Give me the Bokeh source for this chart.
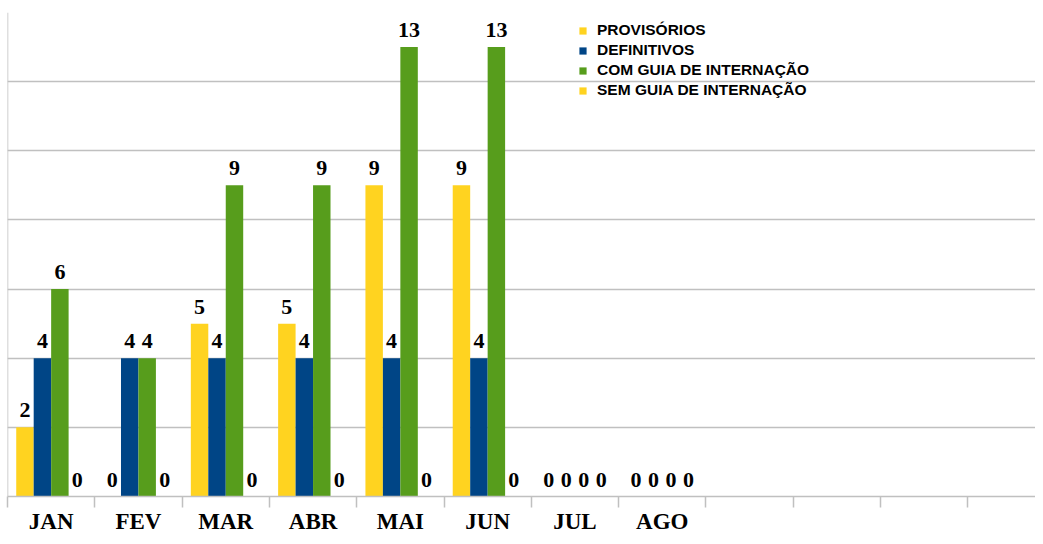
from bokeh.plotting import figure
from bokeh.models import (ColumnDataSource, Range1d, FixedTicker, Grid, Span,
                          Legend, LegendItem)
from bokeh.transform import dodge
from bokeh.core.properties import value
from bokeh.embed import file_html
from bokeh.resources import INLINE

# ---- data ----
months = ["JAN", "FEV", "MAR", "ABR", "MAI", "JUN", "JUL", "AGO", "", "", "", ""]
provisorios = [2, 0, 5, 5, 9, 9, 0, 0]
definitivos = [4, 4, 4, 4, 4, 4, 0, 0]
com_guia = [6, 4, 9, 9, 13, 13, 0, 0]
sem_guia = [0, 0, 0, 0, 0, 0, 0, 0]
series_names = ["PROVISÓRIOS", "DEFINITIVOS", "COM GUIA DE INTERNAÇÃO", "SEM GUIA DE INTERNAÇÃO"]
y_ticks = [0, 2, 4, 6, 8, 10, 12, 14]

colors = ["#FFD320", "#004586", "#579D1C", "#FFD320"]
series = [provisorios, definitivos, com_guia, sem_guia]
offsets = [-0.3, -0.1, 0.1, 0.3]

n_cat = len(months)
centers = [i + 0.5 for i in range(n_cat)]
bounds = [float(i) for i in range(n_cat + 1)]

W, H = 1035, 536
LEFT = 7
cat_px = 87.3
p = figure(width=W, height=H, output_backend="svg", toolbar_location=None,
           x_range=Range1d(0, (W - LEFT) / cat_px), y_range=Range1d(0, 14),
           y_axis_location=None, min_border_left=LEFT, min_border_right=0,
           min_border_top=12, min_border_bottom=10)
p.outline_line_color = None
p.xgrid.visible = False
p.background_fill_color = "white"
p.border_fill_color = "white"

grid = Grid(dimension=1, ticker=FixedTicker(ticks=y_ticks),
            grid_line_color="#c0c0c0", grid_line_width=1.5)
p.add_layout(grid)
p.add_layout(Span(location=0, dimension="height", line_color="#c0c0c0", line_width=1.5))

src = ColumnDataSource(dict(
    x=centers[:len(provisorios)],
    s0=provisorios, s1=definitivos, s2=com_guia, s3=sem_guia,
    t0=[str(v) for v in provisorios], t1=[str(v) for v in definitivos],
    t2=[str(v) for v in com_guia], t3=[str(v) for v in sem_guia],
))

items = []
for k in range(4):
    r = p.vbar(x=dodge("x", offsets[k], range=p.x_range), top=f"s{k}", bottom=0,
               width=0.2, source=src, fill_color=colors[k], line_color=None)
    items.append(LegendItem(label=series_names[k], renderers=[r]))
    p.text(x=dodge("x", offsets[k], range=p.x_range), y=f"s{k}", text=f"t{k}",
           source=src, text_align="center", text_baseline="alphabetic", y_offset=-17,
           text_font=value("Liberation Serif"), text_font_style="bold",
           text_font_size="22px", text_color="black")

legend = Legend(items=items, location=(571, 396), orientation="vertical",
                glyph_width=9, glyph_height=9, label_height=20, spacing=0,
                padding=0, margin=0, label_standoff=10,
                label_text_font="Liberation Sans", label_text_font_style="bold",
                label_text_font_size="15.5px", label_text_color="black",
                background_fill_alpha=0, border_line_alpha=0)
p.add_layout(legend, "center")

ax = p.xaxis[0]
ax.ticker = FixedTicker(ticks=centers, minor_ticks=bounds)
ax.major_label_overrides = {c: m for c, m in zip(centers, months)}
ax.major_tick_line_color = None
ax.major_tick_in = 0
ax.major_tick_out = 0
ax.minor_tick_in = 0
ax.minor_tick_out = 11
ax.minor_tick_line_color = "#c0c0c0"
ax.minor_tick_line_width = 1.5
ax.axis_line_color = "#c0c0c0"
ax.axis_line_width = 1.5
ax.major_label_standoff = 1
ax.major_label_text_font = "Liberation Serif"
ax.major_label_text_font_style = "bold"
ax.major_label_text_font_size = "23px"
ax.major_label_text_color = "black"

open("out.html", "w").write(file_html(p, INLINE))
